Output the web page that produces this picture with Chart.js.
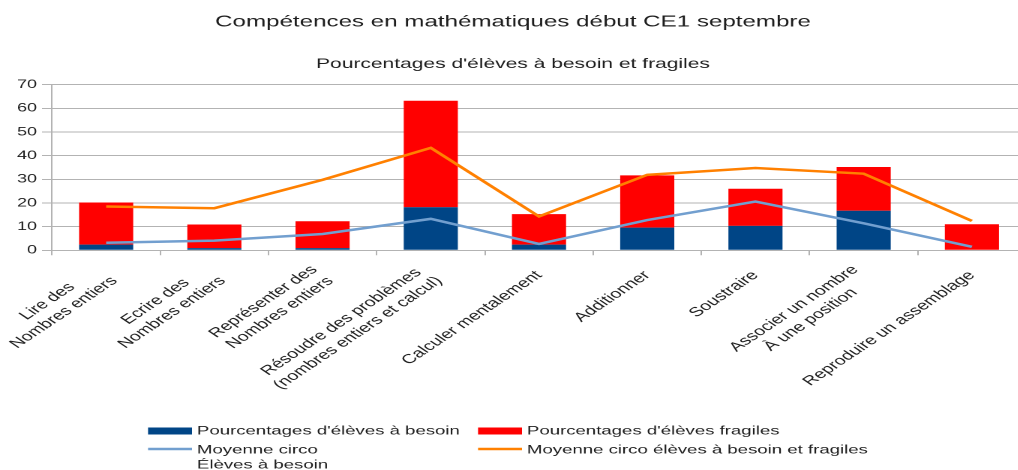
<!DOCTYPE html>
<html>
<head>
<meta charset="utf-8">
<script src="https://cdn.jsdelivr.net/npm/chart.js@4.4.1/dist/chart.umd.min.js"></script>
<style>
    html, body { margin: 0; padding: 0; background: #fff; overflow: hidden; }
    /* The reference is a horizontally stretched export, so the chart is drawn narrow and scaled. */
    #wrap { width: 684px; height: 470px; transform: scaleX(1.5); transform-origin: 0 0; }
</style>
</head>
<body>
<div id="wrap"><canvas id="chart" width="684" height="470"></canvas></div>
<script>
/// Categories (skills tested).
const categories = [
    ['Lire des', 'Nombres entiers'],
    ['Ecrire des', 'Nombres entiers'],
    ['Représenter des', 'Nombres entiers'],
    ['Résoudre des problèmes', '(nombres entiers et calcul)'],
    'Calculer mentalement',
    'Additionner',
    'Soustraire',
    ['Associer un nombre', 'À une position'],
    'Reproduire un assemblage',
];

/// Stacked bars.
const besoin = [2.4, 0.9, 0.9, 18.2, 2.4, 9.6, 10.3, 16.7, 0];
const fragiles = [17.8, 10.0, 11.4, 45.0, 12.9, 22.1, 15.7, 18.5, 11.0];

/// District averages (lines).
const moyenneBesoin = [3.2, 4.1, 6.9, 13.3, 2.7, 12.8, 20.6, 11.4, 1.5];
const moyenneTotal = [18.5, 17.8, 29.8, 43.3, 14.3, 31.9, 34.8, 32.4, 12.4];

const yTicks = [0, 10, 20, 30, 40, 50, 60, 70];

const FONT = '"Liberation Sans", Arial, sans-serif';
const TEXT = '#1e1e1e';
const GRID = '#b3b3b3';
const NAVY = '#004586';
const RED = '#ff0000';
const BLUE = '#729fcf';
const ORANGE = '#ff8000';

// Rotated, centred multi-line category labels.
const categoryLabels = {
    id: 'categoryLabels',
    afterDraw(chart) {
        const ctx = chart.ctx;
        const xs = chart.scales.x;
        ctx.save();
        ctx.font = `13px ${FONT}`;
        ctx.fillStyle = TEXT;
        ctx.textAlign = 'center';
        ctx.textBaseline = 'middle';
        chart.data.labels.forEach((label, i) => {
            const lines = Array.isArray(label) ? label : [label];
            const w = Math.max(...lines.map(l => ctx.measureText(l).width));
            ctx.save();
            ctx.translate(xs.getPixelForValue(i), xs.top + 23);
            ctx.rotate(-Math.PI / 4);
            lines.forEach((line, j) => {
                ctx.fillText(line, -w / 2, (j - (lines.length - 1) / 2) * 15.6);
            });
            ctx.restore();
        });
        ctx.restore();
    }
};

// Two-column legend under the chart.
const LEGEND_SLOTS = [
    { x: 98.7, y: 431 },
    { x: 318.7, y: 431 },
    { x: 98.7, y: 450 },
    { x: 318.7, y: 450 },
];

const legendBlock = {
    id: 'legendBlock',
    afterDraw(chart) {
        const ctx = chart.ctx;
        ctx.save();
        ctx.font = `12.4px ${FONT}`;
        ctx.textBaseline = 'middle';
        ctx.textAlign = 'left';
        chart.data.datasets.forEach((ds, i) => {
            const slot = LEGEND_SLOTS[i];
            if (ds.type === 'line') {
                ctx.strokeStyle = ds.borderColor;
                ctx.lineWidth = 2.5;
                ctx.beginPath();
                ctx.moveTo(slot.x, slot.y - 1);
                ctx.lineTo(slot.x + 29.3, slot.y - 1);
                ctx.stroke();
            } else {
                ctx.fillStyle = ds.backgroundColor;
                ctx.fillRect(slot.x, slot.y - 3.5, 29.3, 7);
            }
            ctx.fillStyle = TEXT;
            ds.label.split('\n').forEach((line, j) => {
                ctx.fillText(line, slot.x + 32.6, slot.y + j * 15);
            });
        });
        ctx.restore();
    }
};

new Chart(document.getElementById('chart'), {
    type: 'bar',
    data: {
        labels: categories,
        datasets: [
            {
                label: "Pourcentages d'élèves à besoin",
                data: besoin,
                backgroundColor: NAVY,
                stack: 'bars',
                order: 1,
                barPercentage: 1,
                categoryPercentage: 0.5,
            },
            {
                label: "Pourcentages d'élèves fragiles",
                data: fragiles,
                backgroundColor: RED,
                stack: 'bars',
                order: 1,
                barPercentage: 1,
                categoryPercentage: 0.5,
            },
            {
                type: 'line',
                label: 'Moyenne circo\nÉlèves à besoin',
                data: moyenneBesoin,
                borderColor: BLUE,
                borderWidth: 2.5,
                pointRadius: 0,
                tension: 0,
                stack: 'l1',
                order: 0,
            },
            {
                type: 'line',
                label: 'Moyenne circo élèves à besoin et fragiles',
                data: moyenneTotal,
                borderColor: ORANGE,
                borderWidth: 2.5,
                pointRadius: 0,
                tension: 0,
                stack: 'l2',
                order: 0,
            },
        ],
    },
    options: {
        responsive: false,
        animation: false,
        devicePixelRatio: 2,
        plugins: {
            legend: { display: false },
            tooltip: { enabled: false },
            title: {
                display: true,
                text: 'Compétences en mathématiques début CE1 septembre',
                color: TEXT,
                font: { family: FONT, size: 16.1, weight: 'normal' },
                padding: { top: 12.4, bottom: 24 },
            },
            subtitle: {
                display: true,
                text: "Pourcentages d'élèves à besoin et fragiles",
                color: TEXT,
                font: { family: FONT, size: 14, weight: 'normal' },
                padding: { top: 0, bottom: 12.2 },
            },
        },
        scales: {
            x: {
                stacked: true,
                offset: true,
                grid: {
                    offset: true,
                    drawOnChartArea: false,
                    drawTicks: true,
                    tickLength: 5,
                    color: GRID,
                },
                border: { color: GRID },
                ticks: { display: false },
                afterFit(scale) { scale.height = 219.7; },
            },
            y: {
                stacked: true,
                min: 0,
                max: 70,
                afterBuildTicks(scale) { scale.ticks = yTicks.map(v => ({ value: v })); },
                ticks: {
                    color: TEXT,
                    padding: 3.3,
                    font: { family: FONT, size: 12 },
                },
                grid: { color: GRID, tickLength: 6.7 },
                border: { color: GRID },
                afterFit(scale) { scale.width = 34.7; },
            },
        },
    },
    plugins: [categoryLabels, legendBlock],
});
</script>
</body>
</html>
